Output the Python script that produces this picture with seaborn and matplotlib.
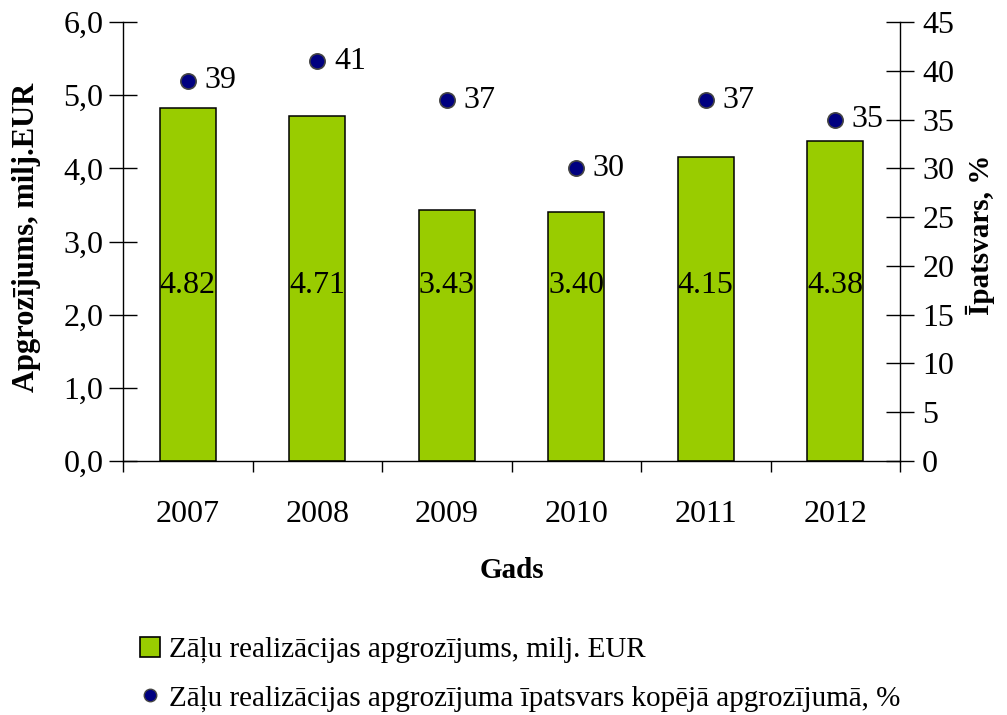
import matplotlib
matplotlib.use("Agg")
import matplotlib.pyplot as plt
import seaborn as sns
import pandas as pd
from matplotlib.patches import Patch
from matplotlib.lines import Line2D
from matplotlib.ticker import FixedLocator

# Data
years = ["2007", "2008", "2009", "2010", "2011", "2012"]
turnover = [4.82, 4.71, 3.43, 3.40, 4.15, 4.38]
share = [39, 41, 37, 30, 37, 35]

bar_label = "Zāļu realizācijas apgrozījums, milj. EUR"
dot_label = "Zāļu realizācijas apgrozījuma īpatsvars kopējā apgrozījumā, %"

df = pd.DataFrame({"Gads": years, "Apgrozijums": turnover, "Ipatsvars": share})

sns.set_theme(style="white")
plt.rcParams["font.family"] = ["Liberation Serif", "DejaVu Serif"]
plt.rcParams["text.color"] = "black"
plt.rcParams["axes.labelcolor"] = "black"

W, H = 1007, 715
fig = plt.figure(figsize=(W / 100, H / 100), dpi=100)
ax = fig.add_axes([123 / W, 1 - 461 / H, (900 - 123) / W, (461 - 22) / H])

# Bars
sns.barplot(data=df, x="Gads", y="Apgrozijums", ax=ax, color="#99CC00",
            saturation=1, width=0.43, edgecolor="black", linewidth=1.1)

# Points on secondary axis
ax2 = ax.twinx()
sns.stripplot(data=df, x="Gads", y="Ipatsvars", ax=ax2, jitter=False,
              color="#000080", size=11, edgecolor="#444444", linewidth=1.2,
              zorder=5)

ax.set_ylim(0, 6)
ax2.set_ylim(0, 45)
ax.set_xlim(-0.5, len(years) - 0.5)

ax.set_yticks([0, 1, 2, 3, 4, 5, 6])
ax.set_yticklabels([f"{v:.1f}".replace(".", ",") for v in range(7)])
ax2.set_yticks(range(0, 50, 5))
ax2.set_yticklabels([str(v) for v in range(0, 50, 5)])

# Spines: only left, right and bottom lines
for a in (ax, ax2):
    for s in a.spines.values():
        s.set_visible(False)
ax.spines["left"].set_visible(True)
ax.spines["bottom"].set_visible(True)
ax2.spines["right"].set_visible(True)
for sp in (ax.spines["left"], ax.spines["bottom"], ax2.spines["right"]):
    sp.set_color("black")
    sp.set_linewidth(1.0)

ax.tick_params(axis="y", direction="inout", length=20, width=1, labelsize=23,
               colors="black", left=True, pad=4)
ax2.tick_params(axis="y", direction="inout", length=20, width=1, labelsize=23,
                colors="black", right=True, pad=6)
# x ticks at category boundaries
ax.tick_params(axis="x", which="major", length=0, labelsize=23, pad=28,
               colors="black")
ax.xaxis.set_minor_locator(FixedLocator([i - 0.5 for i in range(len(years) + 1)]))
ax.tick_params(axis="x", which="minor", direction="out", length=8, width=1,
               bottom=True, colors="black")

ax.set_xlabel("Gads", fontsize=21, fontweight="bold", labelpad=20, color="black")
ax.set_ylabel("")
ax2.set_ylabel("")

fig.text(27 / W, 1 - 392 / H, "Apgrozījums, milj.EUR", rotation=90,
         va="bottom", ha="center", fontsize=22, fontweight="bold", color="black")
fig.text(980 / W, 1 - 235 / H, "Īpatsvars, %", rotation=90,
         va="center", ha="center", fontsize=21, fontweight="bold", color="black")

# Value labels
for i, v in enumerate(turnover):
    ax.text(i, 2.4, f"{v:.2f}", ha="center", va="center", fontsize=23,
            color="black")
for i, v in enumerate(share):
    ax2.annotate(f"{v}", (i, v), xytext=(12, 0), textcoords="offset points",
                 ha="left", va="center", fontsize=23, color="black")

# Legend
handles = [
    Patch(facecolor="#99CC00", edgecolor="black", linewidth=1.2, label=bar_label),
    Line2D([0], [0], marker="o", linestyle="none", markersize=9,
           markerfacecolor="#000080", markeredgecolor="#444444", label=dot_label),
]
leg = fig.legend(handles=handles, loc="upper left", bbox_to_anchor=(125 / W, 1 - 622 / H),
                 frameon=False, fontsize=21, handlelength=0.7, handletextpad=0.3,
                 labelspacing=0.75, borderpad=0, handleheight=0.7)
for t in leg.get_texts():
    t.set_color("black")

fig.savefig("out.png", dpi=100)
